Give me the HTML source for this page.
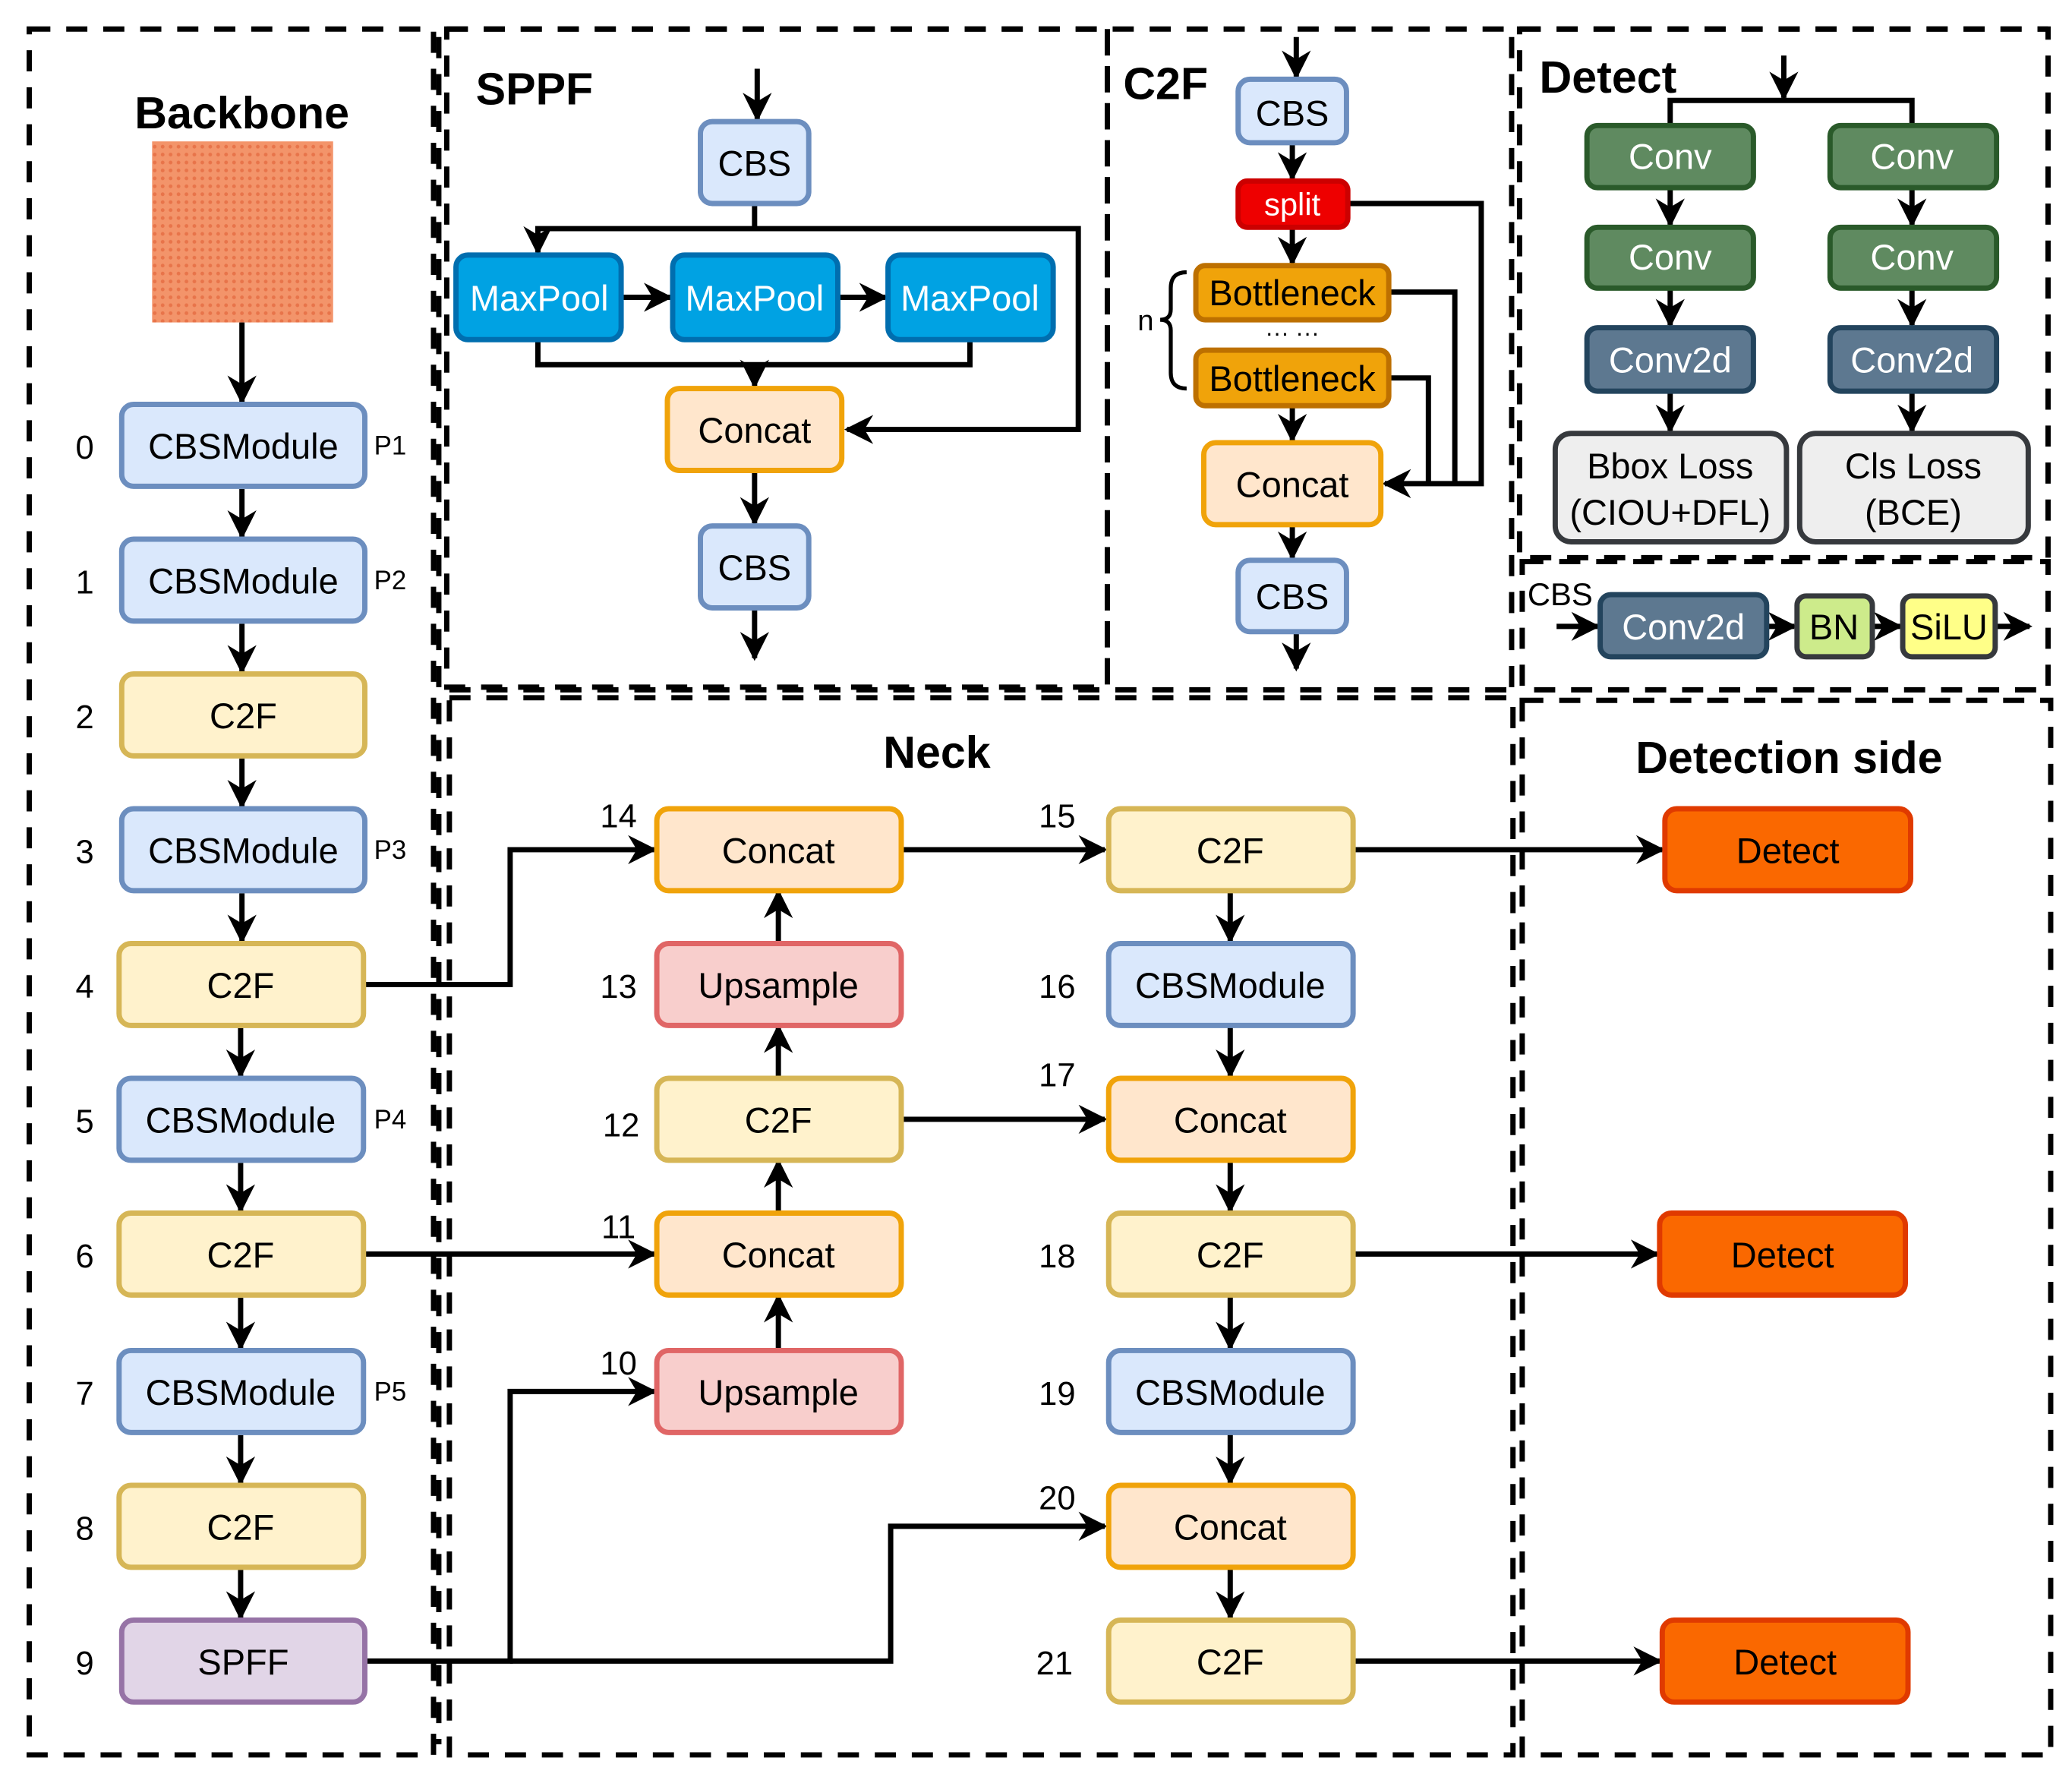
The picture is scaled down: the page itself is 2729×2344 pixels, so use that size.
<!DOCTYPE html>
<html><head><meta charset="utf-8"><style>
html,body{margin:0;padding:0;background:#fff;}
svg{display:block;}
text{font-family:"Liberation Sans",sans-serif;}
</style></head><body>
<svg width="2729" height="2344" viewBox="0 0 1568 1347" xmlns="http://www.w3.org/2000/svg">
<defs>
<marker id="a" viewBox="0 0 10 10" refX="9" refY="5" markerWidth="5.5" markerHeight="5.5" orient="auto" markerUnits="strokeWidth"><path d="M0,0 L10,5 L0,10 L3,5 z" fill="#000"/></marker>
<pattern id="tex" width="6" height="6" patternUnits="userSpaceOnUse"><rect width="6" height="6" fill="#f3946a"/><circle cx="3" cy="3" r="1.4" fill="#e8744a"/></pattern>
</defs>
<g fill="none" stroke="#000" stroke-width="4" stroke-dasharray="16,12">
<rect x="22" y="22" width="306" height="1306"/>
<rect x="338" y="22" width="500" height="498"/>
<line x1="838" y1="22" x2="838" y2="520"/>
<rect x="1150" y="22" width="400" height="400"/>
<rect x="1152" y="425" width="398" height="97"/>
<rect x="340" y="528" width="805" height="800"/>
<rect x="1152" y="530" width="400" height="798"/>
<line x1="338" y1="22" x2="1550" y2="22"/>
<line x1="332" y1="28" x2="332" y2="1320"/>
<line x1="1144" y1="28" x2="1144" y2="520"/>
<line x1="340" y1="522" x2="1145" y2="522"/>
</g>
<g font-weight="bold" font-size="34" fill="#000">
<text x="183" y="97" text-anchor="middle">Backbone</text>
<text x="360" y="79">SPPF</text>
<text x="850" y="75">C2F</text>
<text x="1165" y="70">Detect</text>
<text x="709" y="581" text-anchor="middle">Neck</text>
<text x="1354" y="585" text-anchor="middle">Detection side</text>
</g>
<rect x="115" y="107" width="137" height="137" fill="url(#tex)"/>
<g stroke="#000" stroke-width="4" fill="none">
<polyline points="407,258 407,276 734,276 734,258"/>
<polyline points="1051,221 1101,221 1101,366"/>
<polyline points="1051,286 1081,286 1081,366"/>
<polyline points="1264,95 1264,76 1447,76 1447,95"/>
</g>
<g stroke="#000" stroke-width="4" fill="none" marker-end="url(#a)">
<line x1="183" y1="244" x2="183" y2="304"/>
<line x1="183" y1="370" x2="183" y2="406"/>
<line x1="183" y1="472" x2="183" y2="508"/>
<line x1="183" y1="574" x2="183" y2="610"/>
<line x1="183" y1="676" x2="183" y2="712"/>
<line x1="182" y1="778" x2="182" y2="814"/>
<line x1="182" y1="880" x2="182" y2="916"/>
<line x1="182" y1="982" x2="182" y2="1020"/>
<line x1="182" y1="1086" x2="182" y2="1122"/>
<line x1="182" y1="1188" x2="182" y2="1224"/>
<polyline points="276,745 386,745 386,643 495,643"/>
<line x1="276" y1="949" x2="495" y2="949"/>
<polyline points="278,1257 386,1257 386,1053 495,1053"/>
<polyline points="386,1257 674,1257 674,1155 836,1155"/>
<line x1="589" y1="1021" x2="589" y2="981"/>
<line x1="589" y1="917" x2="589" y2="879"/>
<line x1="589" y1="815" x2="589" y2="777"/>
<line x1="589" y1="713" x2="589" y2="675"/>
<line x1="682" y1="643" x2="836" y2="643"/>
<line x1="682" y1="847" x2="836" y2="847"/>
<line x1="931" y1="675" x2="931" y2="712"/>
<line x1="931" y1="777" x2="931" y2="814"/>
<line x1="931" y1="879" x2="931" y2="916"/>
<line x1="931" y1="981" x2="931" y2="1020"/>
<line x1="931" y1="1085" x2="931" y2="1122"/>
<line x1="931" y1="1187" x2="931" y2="1224"/>
<line x1="1024" y1="643" x2="1258" y2="643"/>
<line x1="1024" y1="949" x2="1254" y2="949"/>
<line x1="1024" y1="1257" x2="1256" y2="1257"/>
<line x1="573" y1="52" x2="573" y2="90"/>
<polyline points="571,155 571,173 407,173 407,191"/>
<polyline points="571,173 816,173 816,325 641,325"/>
<line x1="470" y1="225" x2="507" y2="225"/>
<line x1="634" y1="225" x2="670" y2="225"/>
<line x1="571" y1="276" x2="571" y2="292"/>
<line x1="571" y1="357" x2="571" y2="396"/>
<line x1="571" y1="461" x2="571" y2="498"/>
<line x1="981" y1="28" x2="981" y2="58"/>
<line x1="978" y1="108" x2="978" y2="135"/>
<line x1="978" y1="172" x2="978" y2="199"/>
<line x1="978" y1="307" x2="978" y2="333"/>
<line x1="978" y1="397" x2="978" y2="422"/>
<line x1="981" y1="478" x2="981" y2="506"/>
<polyline points="1021,154 1121,154 1121,366 1048,366"/>
<line x1="1350" y1="42" x2="1350" y2="74"/>
<line x1="1264" y1="142" x2="1264" y2="170"/>
<line x1="1447" y1="142" x2="1447" y2="170"/>
<line x1="1264" y1="218" x2="1264" y2="246"/>
<line x1="1447" y1="218" x2="1447" y2="246"/>
<line x1="1264" y1="296" x2="1264" y2="326"/>
<line x1="1447" y1="296" x2="1447" y2="326"/>
<line x1="1178" y1="474" x2="1209" y2="474"/>
<line x1="1337" y1="474" x2="1358" y2="474"/>
<line x1="1417" y1="474" x2="1438" y2="474"/>
<line x1="1510" y1="474" x2="1536" y2="474"/>
</g>
<path d="M898,206 q-12,0 -12,12 v16 q0,8 -8,8 q8,0 8,8 v32 q0,12 12,12" fill="none" stroke="#000" stroke-width="3"/>
<text x="867" y="250" font-size="22" text-anchor="middle">n</text>
<text x="978" y="258" font-size="18" text-anchor="middle">··· ···</text>
<g stroke-width="4" font-size="27">
<g fill="#dae8fc" stroke="#6c8ebf">
<rect x="92" y="306" width="184" height="62" rx="9"/><rect x="92" y="408" width="184" height="62" rx="9"/>
<rect x="92" y="612" width="184" height="62" rx="9"/><rect x="90" y="816" width="185" height="62" rx="9"/>
<rect x="90" y="1022" width="185" height="62" rx="9"/>
<rect x="839" y="714" width="185" height="62" rx="9"/><rect x="839" y="1022" width="185" height="62" rx="9"/>
<rect x="530" y="92" width="82" height="62" rx="9"/><rect x="530" y="398" width="82" height="62" rx="9"/>
<rect x="937" y="60" width="82" height="48" rx="9"/><rect x="937" y="424" width="82" height="54" rx="9"/>
</g>
<g fill="#fff2cc" stroke="#d6b656">
<rect x="92" y="510" width="184" height="62" rx="9"/><rect x="90" y="714" width="185" height="62" rx="9"/>
<rect x="90" y="918" width="185" height="62" rx="9"/><rect x="90" y="1124" width="185" height="62" rx="9"/>
<rect x="497" y="816" width="185" height="62" rx="9"/>
<rect x="839" y="612" width="185" height="62" rx="9"/><rect x="839" y="918" width="185" height="62" rx="9"/>
<rect x="839" y="1226" width="185" height="62" rx="9"/>
</g>
<rect x="92" y="1226" width="184" height="62" rx="9" fill="#e1d5e7" stroke="#9673a6"/>
<g fill="#ffe6cc" stroke="#f0a30a">
<rect x="497" y="612" width="185" height="62" rx="9"/><rect x="497" y="918" width="185" height="62" rx="9"/>
<rect x="839" y="816" width="185" height="62" rx="9"/><rect x="839" y="1124" width="185" height="62" rx="9"/>
<rect x="505" y="294" width="132" height="62" rx="9"/><rect x="911" y="335" width="134" height="62" rx="9"/>
</g>
<g fill="#f8cecc" stroke="#e06666">
<rect x="497" y="714" width="185" height="62" rx="9"/><rect x="497" y="1022" width="185" height="62" rx="9"/>
</g>
<g fill="#fa6800" stroke="#e03a00">
<rect x="1260" y="612" width="186" height="62" rx="9"/><rect x="1256" y="918" width="186" height="62" rx="9"/>
<rect x="1258" y="1226" width="186" height="62" rx="9"/>
</g>
<g fill="#00a2e3" stroke="#006eaf">
<rect x="345" y="193" width="125" height="64" rx="9"/><rect x="509" y="193" width="125" height="64" rx="9"/><rect x="672" y="193" width="125" height="64" rx="9"/>
</g>
<rect x="937" y="137" width="83" height="35" rx="7" fill="#ee0000" stroke="#c00"/>
<g fill="#f0a30a" stroke="#bd7000">
<rect x="905" y="201" width="146" height="41" rx="7"/><rect x="905" y="265" width="146" height="42" rx="7"/>
</g>
<g fill="#5f8a60" stroke="#2a5a2a">
<rect x="1201" y="95" width="126" height="47" rx="8"/><rect x="1385" y="95" width="126" height="47" rx="8"/>
<rect x="1201" y="172" width="126" height="46" rx="8"/><rect x="1385" y="172" width="126" height="46" rx="8"/>
</g>
<g fill="#5d7890" stroke="#23445d">
<rect x="1201" y="248" width="126" height="48" rx="8"/><rect x="1385" y="248" width="126" height="48" rx="8"/>
<rect x="1211" y="450" width="126" height="47" rx="8"/>
</g>
<g fill="#eeeeee" stroke="#36393d">
<rect x="1177" y="328" width="175" height="82" rx="12"/><rect x="1362" y="328" width="173" height="82" rx="12"/>
</g>
<rect x="1360" y="451" width="57" height="46" rx="7" fill="#cdeb8b" stroke="#36393d"/>
<rect x="1440" y="451" width="70" height="46" rx="7" fill="#ffff88" stroke="#36393d"/>
</g>
<g font-size="27" text-anchor="middle" fill="#000">
<text x="184" y="347">CBSModule</text><text x="184" y="449">CBSModule</text><text x="184" y="551">C2F</text>
<text x="184" y="653">CBSModule</text><text x="182" y="755">C2F</text><text x="182" y="857">CBSModule</text>
<text x="182" y="959">C2F</text><text x="182" y="1063">CBSModule</text><text x="182" y="1165">C2F</text>
<text x="184" y="1267">SPFF</text>
<text x="589" y="653">Concat</text><text x="589" y="755">Upsample</text><text x="589" y="857">C2F</text>
<text x="589" y="959">Concat</text><text x="589" y="1063">Upsample</text>
<text x="931" y="653">C2F</text><text x="931" y="755">CBSModule</text><text x="931" y="857">Concat</text>
<text x="931" y="959">C2F</text><text x="931" y="1063">CBSModule</text><text x="931" y="1165">Concat</text>
<text x="931" y="1267">C2F</text>
<text x="1353" y="653">Detect</text><text x="1349" y="959">Detect</text><text x="1351" y="1267">Detect</text>
<text x="571" y="133">CBS</text><text x="571" y="335">Concat</text><text x="571" y="439">CBS</text>
<text x="978" y="95">CBS</text><text x="978" y="376">Concat</text><text x="978" y="461">CBS</text>
<text x="978" y="231">Bottleneck</text><text x="978" y="296">Bottleneck</text>
<text x="1264" y="362">Bbox Loss</text><text x="1264" y="397">(CIOU+DFL)</text>
<text x="1448" y="362">Cls Loss</text><text x="1448" y="397">(BCE)</text>
<text x="1388" y="484">BN</text><text x="1475" y="484">SiLU</text>
<g fill="#fff">
<text x="408" y="235">MaxPool</text><text x="571" y="235">MaxPool</text><text x="734" y="235">MaxPool</text>
<text x="978" y="163" font-size="24">split</text>
<text x="1264" y="128">Conv</text><text x="1447" y="128">Conv</text>
<text x="1264" y="204">Conv</text><text x="1447" y="204">Conv</text>
<text x="1264" y="282">Conv2d</text><text x="1447" y="282">Conv2d</text><text x="1274" y="484">Conv2d</text>
</g>
</g>
<g font-size="25" text-anchor="middle" fill="#000">
<text x="64" y="347">0</text><text x="64" y="449">1</text><text x="64" y="551">2</text><text x="64" y="653">3</text>
<text x="64" y="755">4</text><text x="64" y="857">5</text><text x="64" y="959">6</text><text x="64" y="1063">7</text>
<text x="64" y="1165">8</text><text x="64" y="1267">9</text>
<text x="468" y="626">14</text><text x="468" y="755">13</text><text x="470" y="860">12</text>
<text x="468" y="937">11</text><text x="468" y="1040">10</text>
<text x="800" y="626">15</text><text x="800" y="755">16</text><text x="800" y="822">17</text>
<text x="800" y="959">18</text><text x="800" y="1063">19</text><text x="800" y="1142">20</text><text x="798" y="1267">21</text>
</g>
<g font-size="20" fill="#000">
<text x="283" y="344">P1</text><text x="283" y="446">P2</text><text x="283" y="650">P3</text>
<text x="283" y="854">P4</text><text x="283" y="1060">P5</text>
<text x="1156" y="458" font-size="24">CBS</text>
</g>
</svg>
</body></html>
